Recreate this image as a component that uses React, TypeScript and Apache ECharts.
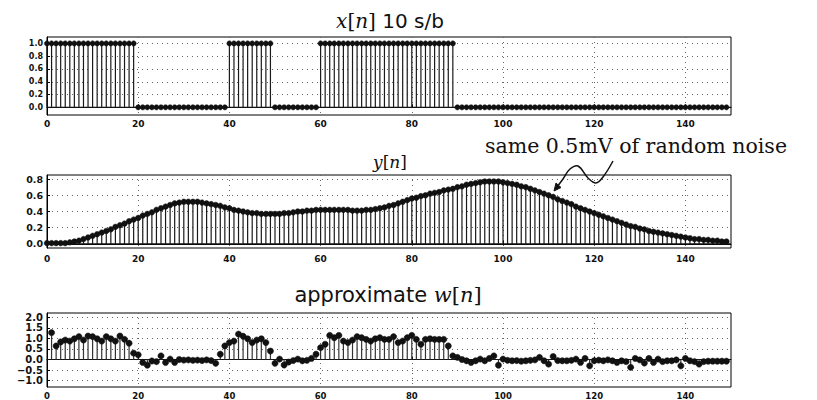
import React, { useEffect, useRef } from "react";
import * as echarts from "echarts";

const xTicks = [0, 20, 40, 60, 80, 100, 120, 140];

// x[n] : 10 samples per bit
const xSignal = [
  1, 1, 1, 1, 1, 1, 1, 1, 1, 1,
  1, 1, 1, 1, 1, 1, 1, 1, 1, 1,
  0, 0, 0, 0, 0, 0, 0, 0, 0, 0,
  0, 0, 0, 0, 0, 0, 0, 0, 0, 0,
  1, 1, 1, 1, 1, 1, 1, 1, 1, 1,
  0, 0, 0, 0, 0, 0, 0, 0, 0, 0,
  1, 1, 1, 1, 1, 1, 1, 1, 1, 1,
  1, 1, 1, 1, 1, 1, 1, 1, 1, 1,
  1, 1, 1, 1, 1, 1, 1, 1, 1, 1,
  0, 0, 0, 0, 0, 0, 0, 0, 0, 0,
  0, 0, 0, 0, 0, 0, 0, 0, 0, 0,
  0, 0, 0, 0, 0, 0, 0, 0, 0, 0,
  0, 0, 0, 0, 0, 0, 0, 0, 0, 0,
  0, 0, 0, 0, 0, 0, 0, 0, 0, 0,
  0, 0, 0, 0, 0, 0, 0, 0, 0, 0,
];

// y[n] : received signal
const ySignal = [
  0.01, 0.01, 0.01, 0.01, 0.01, 0.02, 0.03, 0.04, 0.06, 0.08,
  0.10, 0.12, 0.14, 0.16, 0.18, 0.21, 0.23, 0.25, 0.28, 0.30,
  0.32, 0.35, 0.37, 0.39, 0.42, 0.44, 0.46, 0.48, 0.50, 0.51,
  0.52, 0.52, 0.52, 0.52, 0.51, 0.50, 0.49, 0.48, 0.47, 0.45,
  0.44, 0.42, 0.41, 0.40, 0.39, 0.38, 0.38, 0.37, 0.37, 0.37,
  0.37, 0.37, 0.38, 0.38, 0.39, 0.40, 0.40, 0.41, 0.41, 0.42,
  0.42, 0.42, 0.42, 0.42, 0.42, 0.42, 0.42, 0.41, 0.41, 0.41,
  0.42, 0.42, 0.43, 0.44, 0.45, 0.47, 0.48, 0.50, 0.52, 0.54,
  0.56, 0.57, 0.59, 0.60, 0.62, 0.63, 0.64, 0.66, 0.67, 0.68,
  0.70, 0.71, 0.73, 0.74, 0.75, 0.76, 0.77, 0.77, 0.77, 0.77,
  0.76, 0.75, 0.74, 0.73, 0.71, 0.70, 0.68, 0.66, 0.64, 0.62,
  0.60, 0.58, 0.55, 0.53, 0.51, 0.49, 0.46, 0.44, 0.42, 0.40,
  0.38, 0.36, 0.34, 0.32, 0.30, 0.28, 0.26, 0.24, 0.22, 0.21,
  0.19, 0.18, 0.16, 0.15, 0.14, 0.13, 0.12, 0.11, 0.10, 0.09,
  0.08, 0.07, 0.06, 0.06, 0.05, 0.05, 0.04, 0.04, 0.03, 0.03,
];

// approximate w[n], first sample at n = 1
const wStart = 1;
const wSignal = [
  1.27, 0.64, 0.83, 0.92, 0.87, 0.98, 1.08, 0.92, 1.11, 1.08,
  0.98, 0.87, 1.08, 0.98, 0.87, 1.11, 0.95, 0.77, 0.30, 0.22,
  -0.14, -0.27, -0.07, -0.10, 0.17, -0.14, 0.02, -0.14, 0.00, -0.03,
  -0.02, -0.04, -0.03, -0.05, -0.02, -0.05, -0.18, 0.25, 0.64, 0.80,
  0.87, 1.20, 1.10, 0.98, 0.80, 0.92, 0.98, 0.80, 0.40, -0.18,
  0.02, -0.26, -0.12, -0.05, 0.02, -0.06, -0.04, 0.05, 0.25, 0.56,
  0.72, 1.14, 1.03, 1.14, 0.87, 0.80, 0.92, 1.08, 1.03, 0.95,
  0.87, 0.98, 1.03, 0.95, 0.95, 1.08, 0.80, 0.87, 1.03, 1.14,
  0.95, 0.72, 0.95, 0.98, 0.95, 0.95, 0.95, 0.64, 0.17, 0.10,
  0.00, -0.06, -0.14, -0.06, 0.02, -0.06, 0.05, 0.17, -0.27, 0.02,
  -0.04, -0.06, -0.05, -0.08, -0.06, -0.04, -0.02, 0.10, -0.06, -0.22,
  0.14, -0.05, -0.06, -0.06, -0.04, 0.02, -0.14, 0.05, -0.30, -0.06,
  -0.03, -0.06, -0.02, -0.06, -0.14, -0.06, -0.10, -0.37, 0.05, -0.02,
  -0.17, 0.05, -0.14, 0.02, -0.10, -0.06, -0.06, -0.02, -0.30, 0.05,
  -0.06, -0.10, -0.22, -0.10, -0.08, -0.08, -0.08, -0.08, -0.08,
];

const xRange = [0, 150];
const yTicks1 = [0.0, 0.2, 0.4, 0.6, 0.8, 1.0];
const yTicks2 = [0.0, 0.2, 0.4, 0.6, 0.8];
const yTicks3 = [-1.0, -0.5, 0.0, 0.5, 1.0, 1.5, 2.0];
const yRanges = [
  { min: -0.12, max: 1.1, ticks: yTicks1 },
  { min: -0.05, max: 0.85, ticks: yTicks2 },
  { min: -1.3, max: 2.2, ticks: yTicks3 },
];

const titleX = "x";
const titleY = "y";
const titleW = "w";
const noteText = "same 0.5mV of random noise";

const gridBox = [
  { top: 37, height: 78 },
  { top: 175, height: 73 },
  { top: 313, height: 75 },
];

function stemSeries(idx: number, values: number[], start: number, r: number, stemColor: string) {
  return {
    type: "custom",
    xAxisIndex: idx,
    yAxisIndex: idx,
    data: values.map((v, i) => [i + start, v]),
    encode: { x: 0, y: 1 },
    renderItem: (_params: any, api: any) => {
      const xv = api.value(0);
      const yv = api.value(1);
      const p0 = api.coord([xv, 0]);
      const p1 = api.coord([xv, yv]);
      return {
        type: "group",
        children: [
          {
            type: "line",
            shape: { x1: p0[0], y1: p0[1], x2: p1[0], y2: p1[1] },
            style: { stroke: stemColor, lineWidth: 1.2 },
          },
          {
            type: "circle",
            shape: { cx: p1[0], cy: p1[1], r },
            style: { fill: "#111", stroke: "#111", lineWidth: 0.5 },
          },
        ],
      };
    },
    z: 3,
  };
}

function baseline(idx: number) {
  return {
    type: "line",
    xAxisIndex: idx,
    yAxisIndex: idx,
    data: [
      [xRange[0], 0],
      [xRange[1], 0],
    ],
    symbol: "none",
    lineStyle: { color: "#111", width: 1.2 },
    z: 2,
    silent: true,
  };
}

export default function App() {
  const ref = useRef<HTMLDivElement>(null);

  useEffect(() => {
    if (!ref.current) return;
    const chart = echarts.init(ref.current, undefined, { renderer: "svg" });
    const yLabelSizes = [8, 9.5, 10];
    const xLabelSizes = [9, 9, 8.5];
    const xLabelMargins = [4, 6, 4];

    const grid = gridBox.map((g) => ({
      left: 47,
      right: 86,
      top: g.top,
      height: g.height,
      show: true,
      borderColor: "#000",
      borderWidth: 1,
      backgroundColor: "transparent",
    }));

    const gridLine = { show: true, lineStyle: { color: "#666", width: 1, type: [1, 4] as any } };

    const xAxis = gridBox.map((_g, i) => ({
      type: "value",
      gridIndex: i,
      min: xRange[0],
      max: xRange[1],
      axisLine: { show: true, lineStyle: { color: "#000", width: 1 } },
      axisTick: { show: true, inside: true, length: 3, lineStyle: { color: "#000" }, customValues: xTicks },
      splitLine: gridLine,
      axisLabel: {
        show: true,
        customValues: xTicks,
        fontFamily: "DejaVu Sans",
        fontWeight: "bold",
        fontSize: xLabelSizes[i],
        color: "#111",
        margin: xLabelMargins[i],
        formatter: (v: number) => String(v),
      },
    }));

    const yAxis = yRanges.map((r, i) => ({
      type: "value",
      gridIndex: i,
      min: r.min,
      max: r.max,
      axisLine: { show: true, lineStyle: { color: "#000", width: 1 } },
      axisTick: { show: true, inside: true, length: 3, lineStyle: { color: "#000" }, customValues: r.ticks },
      splitLine: gridLine,
      axisLabel: {
        show: true,
        customValues: r.ticks,
        fontFamily: "DejaVu Sans",
        fontWeight: "bold",
        fontSize: yLabelSizes[i],
        color: "#111",
        margin: 4,
        formatter: (v: number) => v.toFixed(1).replace("-", "\u2212"),
      },
    }));

    const serif = "DejaVu Serif";
    const titleRich = (size: number) => ({
      i: { fontFamily: serif, fontStyle: "italic", fontSize: size, fill: "#111", color: "#111" },
      m: { fontFamily: serif, fontSize: size, fill: "#111", color: "#111" },
      s: { fontFamily: "DejaVu Sans", fontSize: size, fill: "#111", color: "#111" },
    });

    const option: any = {
      animation: false,
      backgroundColor: "#fff",
      grid,
      xAxis,
      yAxis,
      series: [
        baseline(0),
        stemSeries(0, xSignal, 0, 2.6, "#1a1a1a"),
        baseline(1),
        stemSeries(1, ySignal, 0, 2.8, "#1a1a1a"),
        baseline(2),
        stemSeries(2, wSignal, wStart, 3.1, "#333"),
      ],
      graphic: [
        {
          type: "text",
          x: 390,
          y: 21,
          style: {
            text: `{i|${titleX}}{m|[}{i|n}{m|]}{s| 10 s/b}`,
            rich: titleRich(20),
            align: "center",
            verticalAlign: "middle",
          },
        },
        {
          type: "text",
          x: 390,
          y: 162,
          style: {
            text: `{i|${titleY}}{m|[}{i|n}{m|]}`,
            rich: titleRich(17),
            align: "center",
            verticalAlign: "middle",
          },
        },
        {
          type: "text",
          x: 388,
          y: 295,
          style: {
            text: `{s|approximate }{i|${titleW}}{m|[}{i|n}{m|]}`,
            rich: titleRich(21),
            align: "center",
            verticalAlign: "middle",
          },
        },
        {
          type: "text",
          x: 636,
          y: 146,
          style: {
            text: noteText,
            font: `20.5px "${serif}"`,
            fill: "#111",
            align: "center",
            verticalAlign: "middle",
          },
        },
        {
          type: "polyline",
          shape: {
            points: [
              [613, 161],
              [603, 177],
              [596, 183],
              [588, 178],
              [578, 166],
              [570, 169],
              [563, 179],
              [557, 187],
            ],
            smooth: 0.4,
          },
          style: { stroke: "#111", lineWidth: 1.5, fill: "none" },
          z: 10,
        },
        {
          type: "polygon",
          shape: {
            points: [
              [554, 191],
              [561, 187.5],
              [556, 183],
            ],
          },
          style: { fill: "#111", stroke: "#111" },
          z: 10,
        },
      ],
    };

    chart.setOption(option);
    return () => chart.dispose();
  }, []);

  return (
    <div
      ref={ref}
      style={{ position: "absolute", left: 0, top: 0, width: 817, height: 400, background: "#fff" }}
    />
  );
}
